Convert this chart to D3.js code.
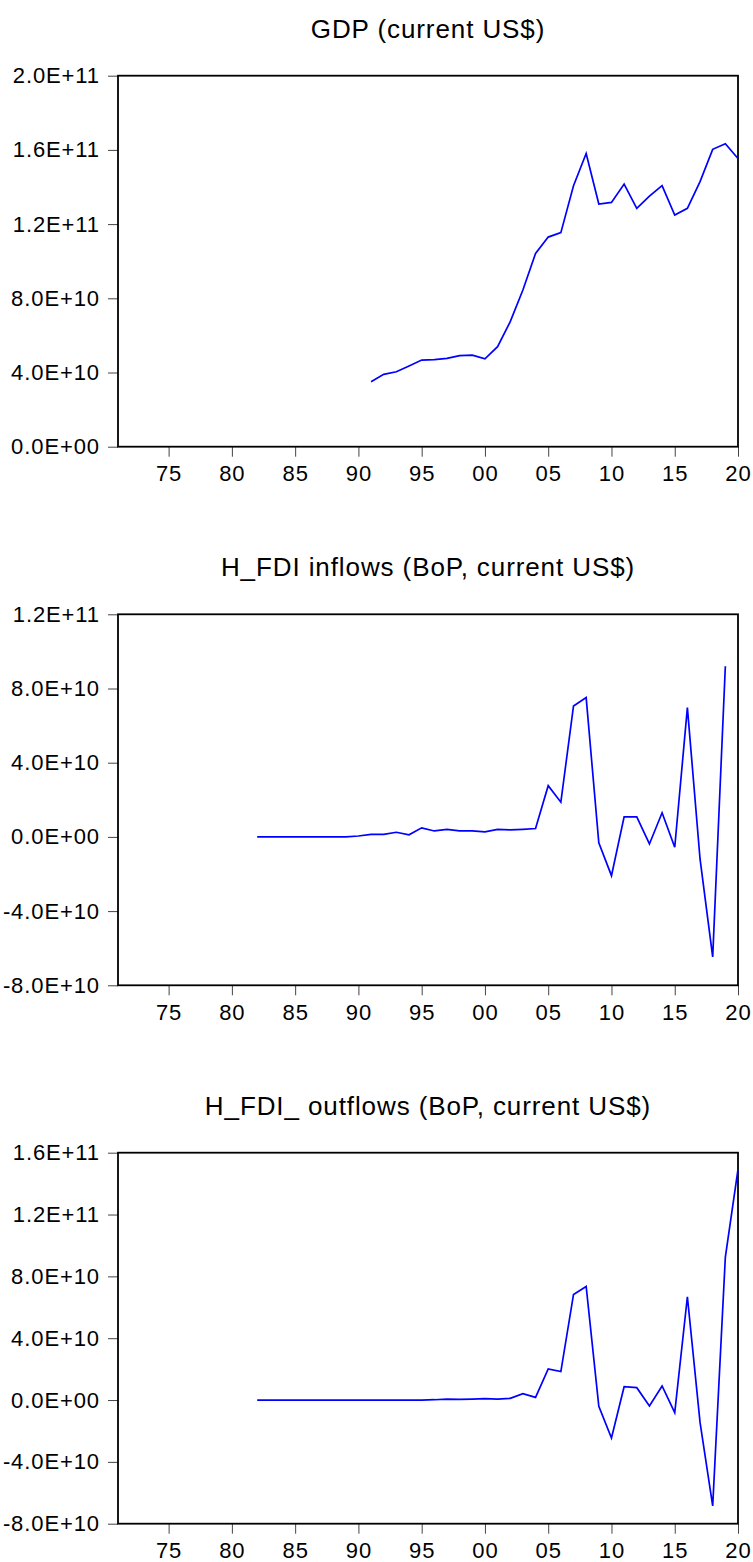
<!DOCTYPE html>
<html>
<head>
<meta charset="utf-8">
<script src="https://cdn.jsdelivr.net/npm/d3@7"></script>
<style>
  body { margin: 0; background: #fff; }
  text { font-family: "Liberation Sans", Arial, sans-serif; fill: #000; }
  .title { font-size: 26px; letter-spacing: 0.9px; }
  .axis text { font-size: 22px; letter-spacing: 0.9px; }
  .axis line { stroke: #444; }
  .axis path { display: none; }
</style>
</head>
<body>
<script>
// Years shown on the x axis
var yearTicks = [1975, 1980, 1985, 1990, 1995, 2000, 2005, 2010, 2015, 2020];

// GDP (current US$), 1991-2020
var gdpStart = 1991;
var gdpValues = [3.50e10, 3.90e10, 4.04e10, 4.35e10, 4.67e10, 4.69e10, 4.76e10, 4.91e10, 4.94e10, 4.74e10,
                 5.39e10, 6.74e10, 8.45e10, 10.42e10, 11.30e10, 11.54e10, 14.07e10, 15.81e10, 13.08e10, 13.17e10,
                 14.16e10, 12.85e10, 13.51e10, 14.07e10, 12.49e10, 12.85e10, 14.29e10, 16.03e10, 16.33e10, 15.54e10];
var gdpTicks = [0, 4e10, 8e10, 1.2e11, 1.6e11, 2e11];
var gdpTickLabels = ["0.0E+00", "4.0E+10", "8.0E+10", "1.2E+11", "1.6E+11", "2.0E+11"];

// FDI inflows (BoP, current US$), 1982-2019
var inStart = 1982;
var inValues = [0, 0, 0, 0, 0, 0, 0, 0, 0.05e10, 0.14e10,
                0.14e10, 0.25e10, 0.11e10, 0.49e10, 0.32e10, 0.41e10, 0.32e10, 0.32e10, 0.27e10, 0.41e10,
                0.38e10, 0.41e10, 0.45e10, 2.76e10, 1.87e10, 7.06e10, 7.51e10, -0.32e10, -2.09e10, 1.08e10,
                1.08e10, -0.38e10, 1.30e10, -0.56e10, 6.97e10, -1.19e10, -6.47e10, 9.20e10];
var inTicks = [-8e10, -4e10, 0, 4e10, 8e10, 1.2e11];
var inTickLabels = ["-8.0E+10", "-4.0E+10", "0.0E+00", "4.0E+10", "8.0E+10", "1.2E+11"];

// FDI outflows (BoP, current US$), 1982-2020
var outStart = 1982;
var outValues = [0, 0, 0, 0, 0, 0, 0, 0, 0, 0,
                 0, 0, 0, 0, 0.02e10, 0.06e10, 0.04e10, 0.06e10, 0.09e10, 0.06e10,
                 0.11e10, 0.41e10, 0.17e10, 2.01e10, 1.84e10, 6.83e10, 7.35e10, -0.41e10, -2.46e10, 0.86e10,
                 0.80e10, -0.39e10, 0.91e10, -0.82e10, 6.68e10, -1.45e10, -6.85e10, 9.25e10, 14.92e10];
var outTicks = [-8e10, -4e10, 0, 4e10, 8e10, 1.2e11, 1.6e11];
var outTickLabels = ["-8.0E+10", "-4.0E+10", "0.0E+00", "4.0E+10", "8.0E+10", "1.2E+11", "1.6E+11"];

var w = 753;
var h = 1562;
var left = 118;
var right = 738;
var panelHeight = 371;

var svg = d3.select("body")
    .append("svg")
    .attr("width", w)
    .attr("height", h);

// One x scale shared by all three panels
var xScale = d3.scaleLinear()
    .domain([1971, 2020])
    .range([left, right]);

function drawPanel(top, title, start, values, ticks, tickLabels) {
  var bottom = top + panelHeight;
  var yScale = d3.scaleLinear()
      .domain([ticks[0], ticks[ticks.length - 1]])
      .range([bottom, top]);

  var g = svg.append("g");

  // Title above the frame
  g.append("text")
      .attr("class", "title")
      .attr("x", (left + right) / 2)
      .attr("y", top - 38)
      .attr("text-anchor", "middle")
      .text(title);

  // y axis
  g.append("g")
      .attr("class", "axis")
      .attr("transform", "translate(" + left + ",0)")
      .call(d3.axisLeft(yScale)
        .tickValues(ticks)
        .tickSize(10)
        .tickPadding(8)
        .tickFormat(function(d, i) { return tickLabels[i]; }));

  // x axis
  g.append("g")
      .attr("class", "axis")
      .attr("transform", "translate(0," + bottom + ")")
      .call(d3.axisBottom(xScale)
        .tickValues(yearTicks)
        .tickSize(10)
        .tickPadding(9)
        .tickFormat(function(d) { return String(d).slice(2); }));

  // Frame round the plot
  g.append("rect")
      .attr("x", left)
      .attr("y", top)
      .attr("width", right - left)
      .attr("height", panelHeight)
      .attr("fill", "none")
      .attr("stroke", "#000")
      .attr("stroke-width", 1.8);

  var line = d3.line()
      .x(function(d, i) { return xScale(start + i); })
      .y(function(d) { return yScale(d); });

  g.append("path")
      .datum(values)
      .attr("fill", "none")
      .attr("stroke", "#0000ff")
      .attr("stroke-width", 1.7)
      .attr("d", line);
}

drawPanel(75.7, "GDP (current US$)", gdpStart, gdpValues, gdpTicks, gdpTickLabels);
drawPanel(614.3, "H_FDI inflows (BoP, current US$)", inStart, inValues, inTicks, inTickLabels);
drawPanel(1152.7, "H_FDI_ outflows (BoP, current US$)", outStart, outValues, outTicks, outTickLabels);
</script>
</body>
</html>
